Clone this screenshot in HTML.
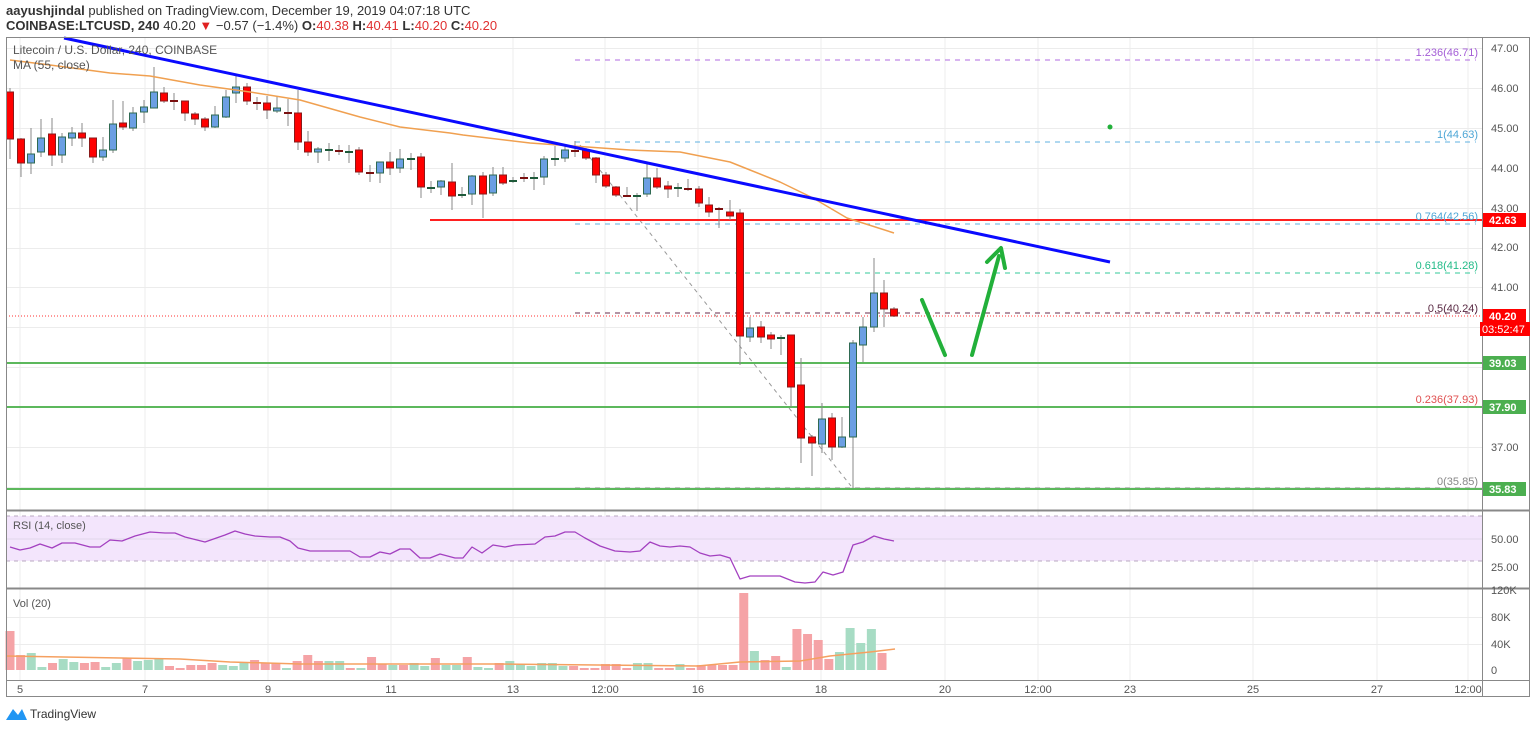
<!DOCTYPE html>
<html><head><meta charset="utf-8"><style>
html,body{margin:0;padding:0;background:#fff;width:1536px;height:729px;overflow:hidden;font-family:"Liberation Sans",sans-serif}
svg{position:absolute;left:0;top:0}
</style></head><body>
<svg id="s" width="1536" height="729" xmlns="http://www.w3.org/2000/svg" font-family="Liberation Sans, sans-serif">
<rect x="0" y="0" width="1536" height="729" fill="#fff"/>
<g id="grid" stroke="#ececec" stroke-width="1"></g>
<rect x="6" y="516" width="1476" height="45" fill="#f3e5fc"/>
<line x1="6" y1="516" x2="1482" y2="516" stroke="#b8a8c0" stroke-dasharray="4,4"/>
<line x1="6" y1="561" x2="1482" y2="561" stroke="#b8a8c0" stroke-dasharray="4,4"/>
<line x1="6" y1="539" x2="1482" y2="539" stroke="#e2d6ea"/>
<g id="fib"></g>
<g id="cand"></g>
<g id="vol"></g>
<g id="ov"></g>
<!-- frame -->
<rect x="6.5" y="37.5" width="1523" height="659" fill="none" stroke="#888"/>
<line x1="1482.5" y1="37" x2="1482.5" y2="697" stroke="#888"/>
<line x1="6" y1="510.5" x2="1530" y2="510.5" stroke="#888" stroke-width="2"/>
<line x1="6" y1="588.5" x2="1530" y2="588.5" stroke="#888" stroke-width="2"/>
<line x1="6" y1="680.5" x2="1530" y2="680.5" stroke="#888"/>
<!-- header -->
<text x="6" y="15" font-size="13" fill="#333"><tspan font-weight="bold">aayushjindal</tspan> published on TradingView.com, December 19, 2019 04:07:18 UTC</text>
<text x="6" y="30" font-size="13" fill="#333"><tspan font-weight="bold">COINBASE:LTCUSD, 240</tspan> 40.20 <tspan fill="#e02020">▼</tspan> −0.57 (−1.4%) <tspan font-weight="bold">O:</tspan><tspan fill="#e03030">40.38</tspan> <tspan font-weight="bold">H:</tspan><tspan fill="#e03030">40.41</tspan> <tspan font-weight="bold">L:</tspan><tspan fill="#e03030">40.20</tspan> <tspan font-weight="bold">C:</tspan><tspan fill="#e03030">40.20</tspan></text>
<text x="13" y="54" font-size="12" fill="#555">Litecoin / U.S. Dollar, 240, COINBASE</text>
<text x="13" y="69" font-size="12" fill="#555">MA (55, close)</text>
<text x="13" y="529" font-size="11" fill="#555">RSI (14, close)</text>
<text x="13" y="607" font-size="11" fill="#555">Vol (20)</text>
<!-- fib labels -->
<g font-size="11" text-anchor="end">
<text x="1478" y="56" fill="#a45ed6">1.236(46.71)</text>
<text x="1478" y="138" fill="#4da6d6">1(44.63)</text>
<text x="1478" y="220" fill="#4da6d6">0.764(42.56)</text>
<text x="1478" y="269" fill="#22bb88">0.618(41.28)</text>
<text x="1478" y="312" fill="#5a2a44">0.5(40.24)</text>
<text x="1478" y="403" fill="#e05050">0.236(37.93)</text>
<text x="1478" y="485" fill="#888">0(35.85)</text>
</g>
<!-- price axis -->
<g font-size="11" fill="#555">
<text x="1491" y="52">47.00</text><text x="1491" y="92">46.00</text><text x="1491" y="132">45.00</text>
<text x="1491" y="172">44.00</text><text x="1491" y="212">43.00</text><text x="1491" y="251">42.00</text>
<text x="1491" y="291">41.00</text><text x="1491" y="451">37.00</text>
<text x="1491" y="543">50.00</text><text x="1491" y="571">25.00</text>
<text x="1491" y="594">120K</text><text x="1491" y="621">80K</text><text x="1491" y="648">40K</text><text x="1491" y="674">0</text>
</g>
<g font-size="11" font-weight="bold" fill="#fff">
<rect x="1483" y="213" width="43" height="14" fill="#ff0000"/><text x="1489" y="224">42.63</text>
<rect x="1483" y="309" width="43" height="14" fill="#ff0000"/><text x="1489" y="320">40.20</text>
<rect x="1480" y="322" width="50" height="14" fill="#ff0000"/><text x="1482" y="333" font-weight="normal">03:52:47</text>
<rect x="1483" y="356" width="43" height="14" fill="#4caf50"/><text x="1489" y="367">39.03</text>
<rect x="1483" y="400" width="43" height="14" fill="#4caf50"/><text x="1489" y="411">37.90</text>
<rect x="1483" y="482" width="43" height="14" fill="#4caf50"/><text x="1489" y="493">35.83</text>
</g>
<!-- time axis -->
<g font-size="11" fill="#555" text-anchor="middle">
<text x="20" y="693">5</text><text x="145" y="693">7</text><text x="268" y="693">9</text><text x="391" y="693">11</text>
<text x="513" y="693">13</text><text x="605" y="693">12:00</text><text x="698" y="693">16</text><text x="821" y="693">18</text>
<text x="945" y="693">20</text><text x="1038" y="693">12:00</text><text x="1130" y="693">23</text><text x="1253" y="693">25</text>
<text x="1377" y="693">27</text><text x="1468" y="693">12:00</text>
</g>
<!-- logo -->
<path d="M6 720 L13 709 L18 715 L22 709 L27 720 Z" fill="#2196f3"/>
<text x="30" y="718" font-size="12" fill="#333">TradingView</text>
</svg>
<script>
var NS="http://www.w3.org/2000/svg";
function el(p,t,a){var e=document.createElementNS(NS,t);for(var k in a)e.setAttribute(k,a[k]);document.getElementById(p).appendChild(e);return e;}
var Y=function(p){return 48+(47-p)*39.9;};
[20,145,268,391,513,605,698,821,945,1038,1130,1253,1377,1468].forEach(function(x){el('grid','line',{x1:x,y1:38,x2:x,y2:680});});
[47,46,45,44,43,42,41,40,39,38,37,36].forEach(function(p){var y=Math.round(Y(p))+.5;el('grid','line',{x1:6,y1:y,x2:1482,y2:y});});
[617,644].forEach(function(y){el('grid','line',{x1:6,y1:y+.5,x2:1482,y2:y+.5});});
// fib
[[60,'#b06be0'],[142,'#5fb0e0'],[224,'#5fb0e0'],[273,'#33c99a'],[313,'#6a2a4a'],[407,'#e06060'],[488,'#999']].forEach(function(f){
el('fib','line',{x1:575,y1:f[0],x2:1476,y2:f[0],stroke:f[1],'stroke-dasharray':'5,5','stroke-width':1});});
el('fib','line',{x1:580,y1:145,x2:851,y2:486,stroke:'#999','stroke-dasharray':'4,4'});
// horizontal lines
el('fib','line',{x1:6,y1:316,x2:1482,y2:316,stroke:'#ff3030','stroke-dasharray':'1,2'});
[363,407,489].forEach(function(y){el('fib','line',{x1:6,y1:y,x2:1482,y2:y,stroke:'#5cb85c','stroke-width':2});});
el('fib','line',{x1:430,y1:220,x2:1482,y2:220,stroke:'#ff2020','stroke-width':2});
// candles
var C=[[10,92,139,88,159,'r'],[21,139,163,138,177,'r'],[31,154,163,128,174,'b'],[41,138,152,119,157,'b'],[52,134,155,118,166,'r'],[62,137,155,133,163,'b'],[72,133,138,127,146,'b'],[82,133,138,123,147,'r'],[93,138,157,138,163,'r'],[103,150,157,137,161,'b'],[113,124,150,100,153,'b'],[123,123,127,101,130,'r'],[133,113,128,107,131,'b'],[144,107,112,100,123,'b'],[154,92,108,67,108,'b'],[164,93,101,87,103,'r'],[174,100,101,93,110,'d'],[185,101,113,101,121,'r'],[195,114,119,112,125,'r'],[205,119,127,117,131,'r'],[215,115,127,106,128,'b'],[226,97,117,90,118,'b'],[236,87,93,75,103,'b'],[247,87,101,83,105,'r'],[257,102,103,97,110,'d'],[267,103,110,96,119,'r'],[277,108,111,96,113,'b'],[288,112,113,99,126,'d'],[298,113,142,90,150,'r'],[308,142,152,131,156,'r'],[318,149,152,147,163,'b'],[329,149,150,143,161,'g'],[339,150,151,145,155,'d'],[349,151,152,145,163,'g'],[359,150,172,147,175,'r'],[370,172,173,165,182,'d'],[380,162,173,162,183,'b'],[390,162,168,152,175,'r'],[400,159,168,149,173,'b'],[411,158,159,153,170,'g'],[421,157,187,153,198,'r'],[431,187,188,181,193,'g'],[441,181,187,180,195,'b'],
[452,182,196,163,210,'r'],[462,194,195,187,198,'g'],[472,176,194,175,205,'b'],[483,176,194,172,218,'r'],[493,175,193,167,196,'b'],[503,175,183,167,185,'r'],[513,180,181,177,183,'g'],[524,177,178,173,182,'d'],[534,177,178,172,190,'g'],[544,159,177,156,185,'b'],[555,158,159,146,166,'g'],[565,150,158,146,162,'b'],[575,150,151,141,157,'d'],[586,150,158,148,160,'r'],[596,158,175,157,183,'r'],[606,175,186,172,188,'r'],[616,187,195,186,197,'r'],[627,195,196,187,197,'d'],[637,195,196,193,211,'g'],[647,178,194,164,197,'b'],[657,178,187,168,189,'r'],[668,186,189,181,198,'r'],[678,187,188,183,197,'g'],[688,188,189,179,191,'d'],[699,189,203,186,207,'r'],[709,205,212,197,217,'r'],[719,208,210,207,228,'d'],[730,212,216,200,220,'r'],[740,213,336,209,365,'r'],[750,328,337,317,342,'b'],[761,327,337,321,343,'r'],[771,335,339,332,349,'r'],[781,337,338,335,355,'g'],[791,335,387,335,407,'r'],[801,385,438,358,463,'r'],[812,437,443,435,476,'r'],[822,419,444,403,453,'b'],[832,418,447,413,460,'r'],[842,437,447,417,448,'b'],[853,343,437,340,488,'b'],[863,327,345,317,362,'b'],[874,293,327,258,332,'b'],[884,293,309,280,327,'r'],[894,309,316,307,317,'r']];
C.forEach(function(c){
el('cand','line',{x1:c[0],y1:c[3],x2:c[0],y2:c[4],stroke:'#888','stroke-width':1});
var t=c[5];
if(t=='d'||t=='g'){el('cand','rect',{x:c[0]-4,y:c[1],width:8,height:2,fill:t=='d'?'#7a1010':'#1e5a3a'});}
else el('cand','rect',{x:c[0]-3.5,y:c[1],width:7,height:Math.max(2,c[2]-c[1]),fill:t=='r'?'#ff0000':'#6b9fe3',stroke:t=='r'?'#8a1a1a':'#2f6a52','stroke-width':1});
});
// volume
var V="r39 r15 g17 g3 r7 g11 g8 r7 r8 g3 g7 r12 g9 g10 g12 r4 r2 r5 r5 r7 g5 g4 g7 r10 r7 r7 g2 r9 r15 r9 g9 g9 r2 g2 r13 r6 g5 r5 g7 g4 r12 g5 g5 r13 g3 g2 r7 g9 g5 g4 g7 g7 g4 r4 r2 r2 r6 r6 r2 g7 g7 r2 r2 g6 r2 r5 r5 r5 r5 r77 g19 r10 r14 g3 r41 r36 r30 r11 g18 g42 g27 g41 r17".split(' ');
var sp=(882-10)/(V.length-1);
V.forEach(function(v,i){var h=+v.slice(1);var x=10+i*sp;el('vol','rect',{x:x-4.5,y:670-h,width:9,height:h,fill:v[0]=='r'?'#f5a3a6':'#a7dcc4'});});
function pl(pts,col,w){el('ov','polyline',{points:pts.map(function(p){return p.join(',');}).join(' '),fill:'none',stroke:col,'stroke-width':w,'stroke-linejoin':'round'});}
pl([[6,656],[180,659],[230,662],[300,664],[500,664],[698,666],[740,662],[800,661],[830,656],[870,652],[895,649]],'#f5a060',1.5);
pl([[10,60],[50,65],[110,73],[150,76],[200,85],[250,92],[300,100],[360,117],[400,127],[450,133],[463,135],[530,143],[630,150],[680,152],[730,162],[750,170],[780,182],[813,198],[847,218],[894,233]],'#f0a050',1.5);
pl([[10,547],[20,550],[30,548],[40,544],[52,548],[62,543],[75,543],[90,547],[100,547],[110,540],[122,541],[135,536],[150,532],[165,533],[175,533],[185,537],[205,542],[225,535],[235,531],[245,534],[255,536],[270,537],[280,537],[290,541],[298,548],[310,551],[350,551],[360,557],[370,557],[380,552],[390,554],[400,549],[410,549],[420,558],[430,558],[440,554],[455,558],[463,558],[472,547],[482,553],[493,545],[505,547],[515,545],[535,544],[545,537],[555,536],[565,532],[575,532],[585,538],[600,546],[615,551],[630,552],[640,551],[650,542],[660,546],[670,547],[680,546],[690,547],[700,553],[710,556],[720,555],[730,558],[740,579],[750,576],[780,576],[795,582],[805,583],[815,582],[823,572],[833,575],[843,572],[853,545],[863,542],[874,536],[884,539],[894,541]],'#a340c0',1.3);
// trendline
el('ov','line',{x1:64,y1:38,x2:1110,y2:262,stroke:'#0a0aff','stroke-width':3});
// arrows
el('ov','line',{x1:922,y1:300,x2:945,y2:355,stroke:'#22b03a','stroke-width':4,'stroke-linecap':'round'});
el('ov','line',{x1:972,y1:355,x2:999,y2:256,stroke:'#22b03a','stroke-width':4,'stroke-linecap':'round'});
el('ov','polyline',{points:'987,262 1001,248 1005,268',fill:'none',stroke:'#22b03a','stroke-width':4,'stroke-linecap':'round','stroke-linejoin':'round'});
el('ov','circle',{cx:1110,cy:127,r:2.5,fill:'#22b03a'});
</script>
</body></html>
